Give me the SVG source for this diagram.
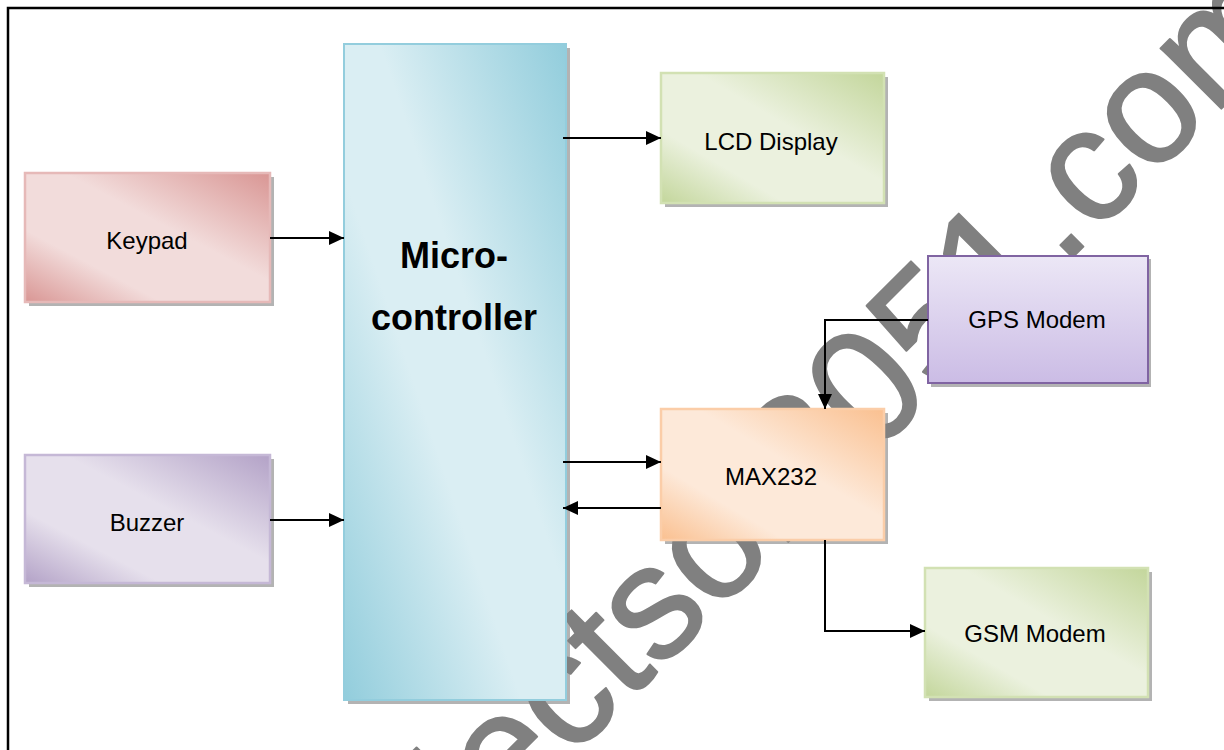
<svg xmlns="http://www.w3.org/2000/svg" width="1224" height="750" viewBox="0 0 1224 750">
<style>
  .lbl { font-family: "Liberation Sans", Arial, sans-serif; font-size: 24px; fill: #000; text-anchor: middle; }
  .big { font-family: "Liberation Sans", Arial, sans-serif; font-size: 36px; font-weight: bold; fill: #000; text-anchor: middle; }
  .shadow { fill: #808080; opacity: 0.6; }
  .conn { fill: none; stroke: #000; stroke-width: 2; }
  .wm { font-family: "Liberation Sans", Arial, sans-serif; font-size: 162px; fill: #808080; stroke: #808080; stroke-width: 2; stroke-linejoin: round; }
</style>
<defs>
  <linearGradient id="gRed" x1="1" y1="0" x2="0" y2="1">
    <stop offset="0" stop-color="#D99694"/>
    <stop offset="0.42" stop-color="#F2DCDB"/>
    <stop offset="0.72" stop-color="#F2DCDB"/>
    <stop offset="1" stop-color="#D99694"/>
  </linearGradient>
  <linearGradient id="gPurple" x1="1" y1="0" x2="0" y2="1">
    <stop offset="0" stop-color="#B3A2C7"/>
    <stop offset="0.42" stop-color="#E6E0EC"/>
    <stop offset="0.72" stop-color="#E6E0EC"/>
    <stop offset="1" stop-color="#B3A2C7"/>
  </linearGradient>
  <linearGradient id="gGreen" x1="1" y1="0" x2="0" y2="1">
    <stop offset="0" stop-color="#C3D69B"/>
    <stop offset="0.42" stop-color="#EBF1DE"/>
    <stop offset="0.72" stop-color="#EBF1DE"/>
    <stop offset="1" stop-color="#C3D69B"/>
  </linearGradient>
  <linearGradient id="gOrange" x1="1" y1="0" x2="0" y2="1">
    <stop offset="0" stop-color="#FAC090"/>
    <stop offset="0.42" stop-color="#FDE9D9"/>
    <stop offset="0.72" stop-color="#FDE9D9"/>
    <stop offset="1" stop-color="#FAC090"/>
  </linearGradient>
  <linearGradient id="gBlue" x1="1" y1="0" x2="0" y2="1">
    <stop offset="0" stop-color="#92CDDC"/>
    <stop offset="0.42" stop-color="#DAEEF3"/>
    <stop offset="0.6" stop-color="#DAEEF3"/>
    <stop offset="1" stop-color="#92CDDC"/>
  </linearGradient>
  <linearGradient id="gGps" x1="0" y1="0" x2="0" y2="1">
    <stop offset="0" stop-color="#ECE7F6"/>
    <stop offset="1" stop-color="#CBBCE5"/>
  </linearGradient>
  <marker id="arr" markerUnits="userSpaceOnUse" markerWidth="16" markerHeight="14" refX="15" refY="7" orient="auto">
    <path d="M0,0 L15,7 L0,14 Z" fill="#000"/>
  </marker>
</defs>

<rect x="0" y="0" width="1224" height="750" fill="#fff"/>

<text class="wm" transform="translate(318,1012) rotate(-45)" x="0" y="0" textLength="1400" lengthAdjust="spacingAndGlyphs">projectsof8051.com</text>

<rect x="8" y="8" width="1240" height="780" fill="none" stroke="#000" stroke-width="2.5"/>

<g id="microcontroller">
  <rect class="shadow" x="348" y="48" width="222" height="656"/>
  <rect x="344" y="44" width="222" height="656" fill="url(#gBlue)" stroke="#93CDDD" stroke-width="2"/>
  <text class="big" x="454" y="268">Micro-</text>
  <text class="big" x="454" y="330">controller</text>
</g>

<g id="keypad">
  <rect class="shadow" x="29" y="177" width="245" height="129"/>
  <rect x="25" y="173" width="245" height="129" fill="url(#gRed)" stroke="#E6B9B8" stroke-width="2.5"/>
  <text class="lbl" x="147" y="249">Keypad</text>
</g>

<g id="buzzer">
  <rect class="shadow" x="29" y="459" width="245" height="128"/>
  <rect x="25" y="455" width="245" height="128" fill="url(#gPurple)" stroke="#C5B8D6" stroke-width="2.5"/>
  <text class="lbl" x="147" y="531">Buzzer</text>
</g>

<g id="lcd">
  <rect class="shadow" x="665" y="77" width="223" height="130"/>
  <rect x="661" y="73" width="223" height="130" fill="url(#gGreen)" stroke="#D2E1B3" stroke-width="2.5"/>
  <text class="lbl" x="771" y="150">LCD Display</text>
</g>

<g id="gps">
  <rect class="shadow" x="931" y="259" width="220" height="128"/>
  <rect x="928" y="256" width="220" height="127" fill="url(#gGps)" stroke="#8064A2" stroke-width="2"/>
  <text class="lbl" x="1037" y="328">GPS Modem</text>
</g>

<g id="max232">
  <rect class="shadow" x="665" y="413" width="223" height="131"/>
  <rect x="661" y="409" width="223" height="131" fill="url(#gOrange)" stroke="#FBCDA8" stroke-width="2.5"/>
  <text class="lbl" x="771" y="485">MAX232</text>
</g>

<g id="gsm">
  <rect class="shadow" x="929" y="572" width="223" height="129"/>
  <rect x="925" y="568" width="223" height="129" fill="url(#gGreen)" stroke="#D2E1B3" stroke-width="2.5"/>
  <text class="lbl" x="1035" y="642">GSM Modem</text>
</g>

<g id="connectors">
  <path class="conn" d="M270,238 H344" marker-end="url(#arr)"/>
  <path class="conn" d="M270,520 H344" marker-end="url(#arr)"/>
  <path class="conn" d="M563,138 H661" marker-end="url(#arr)"/>
  <path class="conn" d="M563,462 H661" marker-end="url(#arr)"/>
  <path class="conn" d="M661,508 H563" marker-end="url(#arr)"/>
  <path class="conn" d="M928,320 H825 V409" marker-end="url(#arr)"/>
  <path class="conn" d="M825,540 V631 H925" marker-end="url(#arr)"/>
</g>
</svg>
